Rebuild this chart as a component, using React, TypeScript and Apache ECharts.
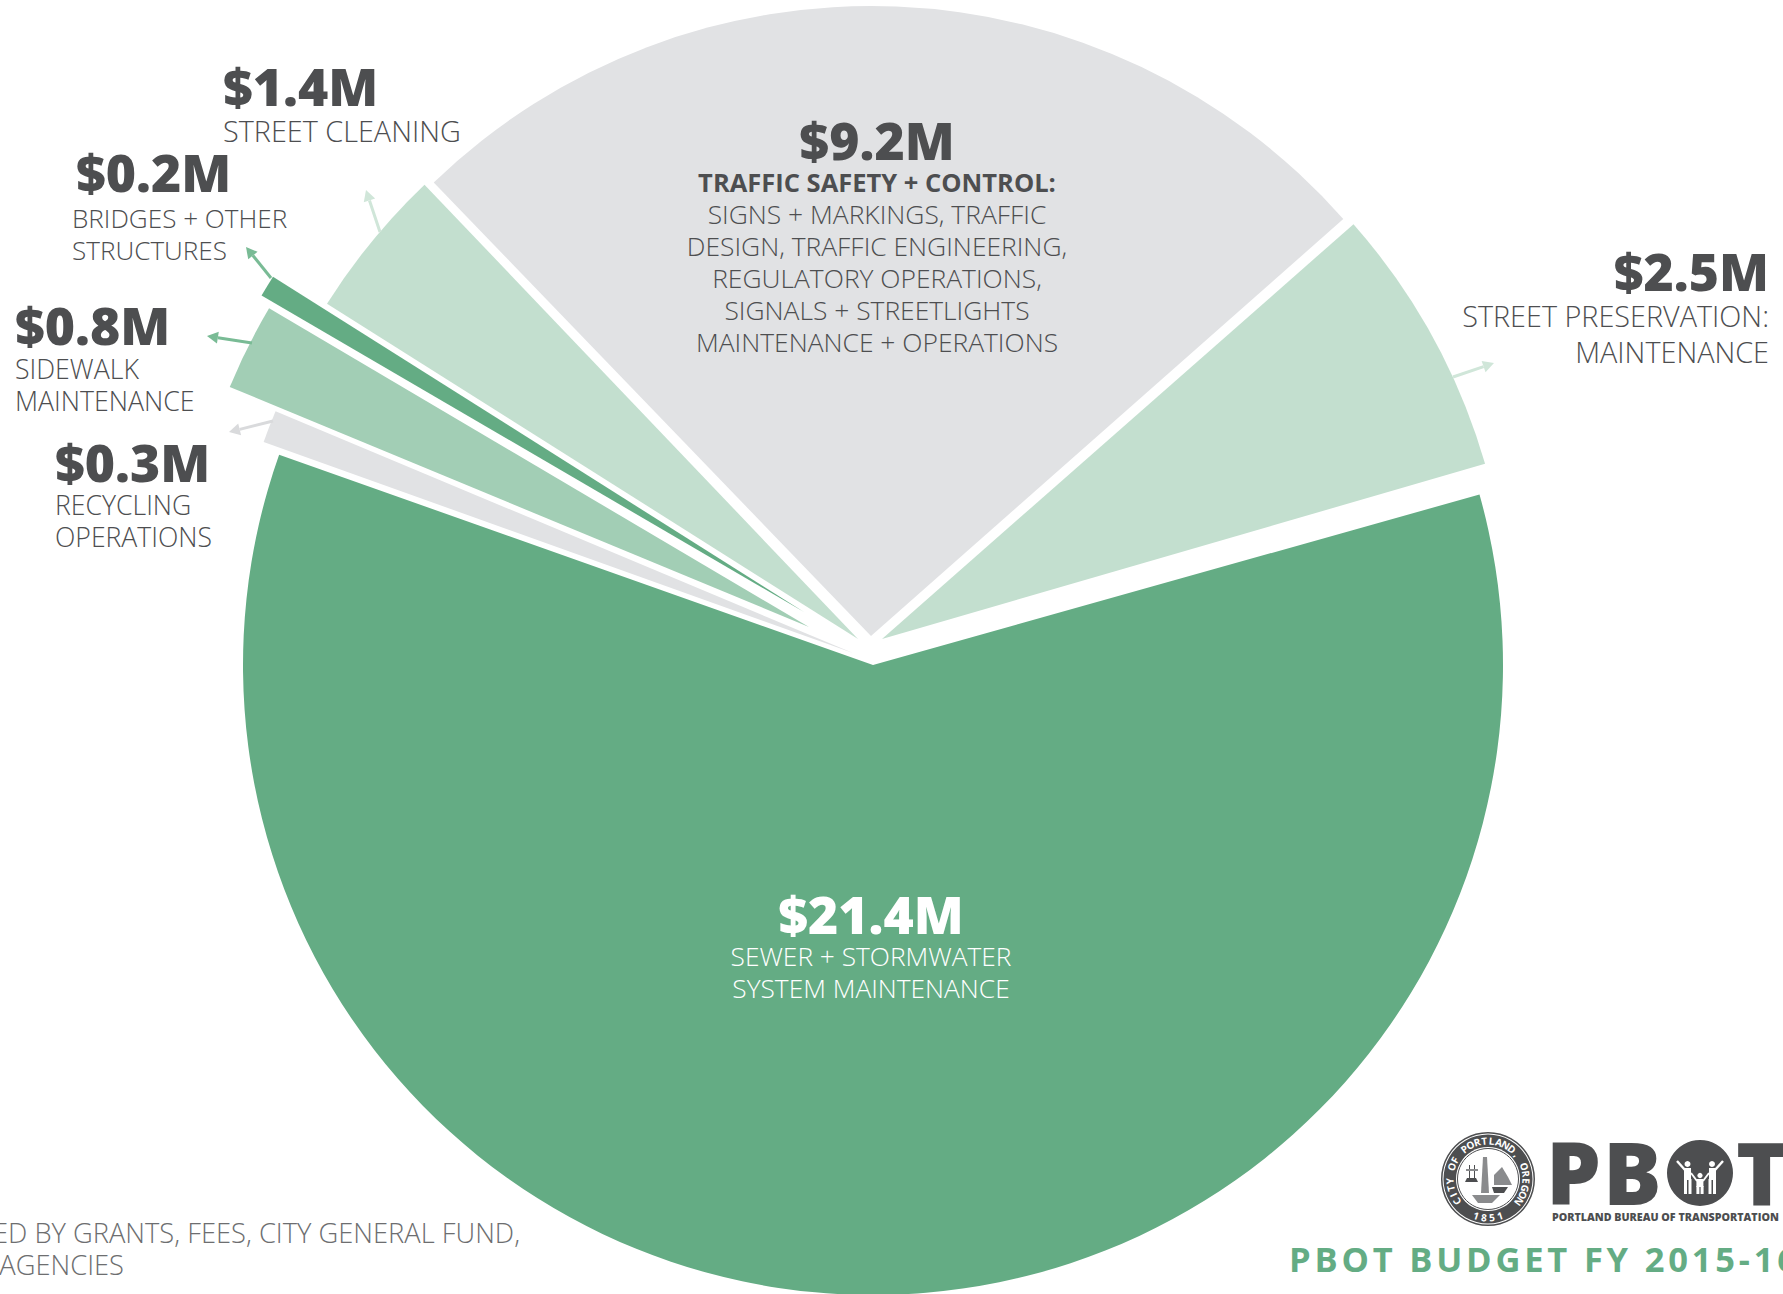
import React, { useEffect, useRef } from "react";
import * as echarts from "echarts";

// Budget lines in clockwise order, starting from the sewer slice.
const categories = [
  "Sewer + Stormwater System Maintenance",
  "Recycling Operations",
  "Sidewalk Maintenance",
  "Bridges + Other Structures",
  "Street Cleaning",
  "Traffic Safety + Control",
  "Street Preservation: Maintenance",
];
const valuesM = [21.4, 0.3, 0.8, 0.2, 1.4, 9.2, 2.5];
const sliceColors = ["#64AC84", "#E1E2E4", "#A2CEB5", "#64AC84", "#C3DFCF", "#E1E2E4", "#C3DFCF"];

// Every slice is pulled away from the middle by its own amount and turned slightly.
const sliceCenters = [
  [873, 665],
  [853, 653],
  [809, 627],
  [804, 612],
  [858, 639],
  [871, 636],
  [882, 639],
];
const sliceRadii = [630, 626, 627, 628, 628, 630, 628];
const sliceTurns = [-0.3, -0.5, -0.3, 0, 0, 0.3, 0.2];
const START_ANGLE = 16;

const INK = "#4D4E50";
const FOOT = "#6D6E70";
const FONT = "'Open Sans'";

const text = (
  t: string,
  x: number,
  y: number,
  size: number,
  weight: number,
  fill: string,
  align: string = "left",
) => ({
  type: "text",
  z: 20,
  silent: true,
  style: {
    text: t,
    x,
    y,
    fill,
    font: `${weight} ${size}px ${FONT}`,
    textAlign: align,
    textVerticalAlign: "middle",
  },
});

const HEAD = 51.7;
const money = (i: number) => `$${valuesM[i].toFixed(1)}M`;

// Amount with its caption lines, one block per slice.
const block = (
  i: number,
  x: number,
  yHead: number,
  size: number,
  lines: [string, number, number?, number?][],
  fill: string,
  align: string,
  captionX: number = x,
) => [
  text(money(i), x, yHead, HEAD, 800, fill, align),
  ...lines.map(([t, y, w, s]) => text(t, captionX, y, s ?? size, w ?? 300, fill, align)),
];

const arrow = (x0: number, y0: number, x1: number, y1: number, color: string) => {
  const a = Math.atan2(y1 - y0, x1 - x0);
  const len = 11;
  const wing = 6;
  const bx = x1 - Math.cos(a) * len;
  const by = y1 - Math.sin(a) * len;
  return [
    {
      type: "line",
      z: 5,
      silent: true,
      shape: { x1: x0, y1: y0, x2: bx, y2: by },
      style: { stroke: color, lineWidth: 3 },
    },
    {
      type: "polygon",
      z: 5,
      silent: true,
      shape: {
        points: [
          [x1, y1],
          [bx - Math.sin(a) * wing, by + Math.cos(a) * wing],
          [bx + Math.sin(a) * wing, by - Math.cos(a) * wing],
        ],
      },
      style: { fill: color },
    },
  ];
};

// City seal: banded ring with its lettering set round the arc, and a small scene inside.
const seal = (cx: number, cy: number) => {
  const items: any[] = [
    { type: "circle", z: 20, silent: true, shape: { cx, cy, r: 47 }, style: { fill: INK } },
    { type: "circle", z: 20, silent: true, shape: { cx, cy, r: 45.5 }, style: { fill: "#fff" } },
    { type: "circle", z: 20, silent: true, shape: { cx, cy, r: 44.5 }, style: { fill: INK } },
    { type: "circle", z: 20, silent: true, shape: { cx, cy, r: 32 }, style: { fill: "#fff" } },
    { type: "circle", z: 20, silent: true, shape: { cx, cy, r: 30.5 }, style: { fill: "#fff", stroke: INK, lineWidth: 1 } },
  ];
  const arcText = "CITY OF PORTLAND, OREGON";
  const from = (-126 * Math.PI) / 180;
  const to = (126 * Math.PI) / 180;
  [...arcText].forEach((c, i) => {
    const t = from + ((to - from) * i) / (arcText.length - 1);
    items.push({
      type: "text",
      z: 21,
      silent: true,
      x: cx + Math.sin(t) * 38.5,
      y: cy - Math.cos(t) * 38.5,
      rotation: -t,
      style: { text: c, x: 0, y: 0, fill: "#fff", font: `700 10px ${FONT}`, textAlign: "center", textVerticalAlign: "middle" },
    });
  });
  [..."1851"].forEach((c, i) => {
    const t = ((i - 1.5) * 12 * Math.PI) / 180;
    items.push({
      type: "text",
      z: 21,
      silent: true,
      x: cx + Math.sin(t) * 38.5,
      y: cy + Math.cos(t) * 38.5,
      rotation: t,
      style: { text: c, x: 0, y: 0, fill: "#fff", font: `700 10px ${FONT}`, textAlign: "center", textVerticalAlign: "middle" },
    });
  });
  const shade = { fill: "#8A8B8D" };
  const dark = { fill: INK };
  const poly = (pts: number[][], style: any) => ({
    type: "polygon",
    z: 21,
    silent: true,
    shape: { points: pts.map(([x, y]) => [cx + x, cy + y]) },
    style,
  });
  items.push(
    poly([[-5, -22], [-1, -22], [1, 14], [-7, 14]], shade),
    poly([[-21, -1], [-12, -1], [-10, 3], [-23, 3]], dark),
    poly([[-19, -14], [-18, -14], [-18, -1], [-19, -1]], dark),
    poly([[-14, -14], [-13, -14], [-13, -1], [-14, -1]], dark),
    poly([[-22, -10], [-10, -10], [-10, -8], [-22, -8]], shade),
    poly([[6, -4], [14, -12], [20, -2], [24, 6], [6, 6]], shade),
    poly([[4, 8], [20, 8], [16, 14], [6, 14]], dark),
    poly([[-16, 16], [12, 16], [4, 24], [-10, 24]], shade),
  );
  return items;
};

// Transportation bureau wordmark; the O is a disc holding a family of three.
const wordmark = (x: number, top: number) => {
  const white = { fill: "#fff" };
  const ox = x + 148;
  const oy = top + 33;
  const rect = (x0: number, y0: number, w: number, h: number) => ({
    type: "rect",
    z: 22,
    silent: true,
    shape: { x: ox + x0, y: oy + y0, width: w, height: h },
    style: white,
  });
  const limb = (x0: number, y0: number, x1: number, y1: number, w: number) => ({
    type: "line",
    z: 22,
    silent: true,
    shape: { x1: ox + x0, y1: oy + y0, x2: ox + x1, y2: oy + y1 },
    style: { stroke: "#fff", lineWidth: w },
  });
  const head = (x0: number, y0: number, r: number) => ({
    type: "circle",
    z: 22,
    silent: true,
    shape: { cx: ox + x0, cy: oy + y0, r },
    style: white,
  });
  return [
    text("P", x - 6, top + 31, 87, 800, INK),
    text("B", x + 51, top + 31, 87, 800, INK),
    text("T", x + 184, top + 31, 87, 800, INK),
    { type: "circle", z: 21, silent: true, shape: { cx: ox, cy: oy, r: 33 }, style: { fill: INK } },
    head(-12.5, -9, 3),
    head(12, -9, 3),
    head(0, 2.5, 2.6),
    limb(-23, -12, -15, -3, 2.4),
    limb(23, -12, 15, -3, 2.4),
    rect(-16, -5, 7, 12),
    rect(9, -5, 7, 12),
    rect(-16, 6, 3, 15),
    rect(-11.5, 6, 3, 15),
    rect(8.5, 6, 3, 15),
    rect(13, 6, 3, 15),
    limb(-9, 0, -3, 8, 1.8),
    limb(9, 0, 3, 8, 1.8),
    rect(-3.6, 6, 7, 8),
    rect(-3.6, 13, 3, 8),
    rect(0.6, 13, 3, 8),
  ];
};

export default function App() {
  const ref = useRef<HTMLDivElement>(null);

  useEffect(() => {
    const chart = echarts.init(ref.current!, undefined, { renderer: "svg" });
    const pieData = (show: number) =>
      valuesM.map((value, i) => ({
        name: categories[i],
        value,
        itemStyle: i === show ? { color: sliceColors[i] } : { color: "#fff", opacity: 0 },
      }));

    chart.setOption({
      animation: false,
      backgroundColor: "#fff",
      series: categories.map((_, i) => ({
        type: "pie",
        silent: true,
        clockwise: true,
        startAngle: START_ANGLE + sliceTurns[i],
        center: sliceCenters[i],
        radius: [0, sliceRadii[i]],
        avoidLabelOverlap: false,
        label: { show: false },
        labelLine: { show: false },
        data: pieData(i),
      })),
      graphic: {
        elements: [
          ...arrow(380, 232, 366, 190, "#D0E6D9"),
          ...arrow(271, 278, 246, 247, "#79BB95"),
          ...arrow(252, 343, 207, 336, "#79BB95"),
          ...arrow(273, 421, 229, 432, "#D9DADC"),
          ...arrow(1453, 377, 1494, 363, "#D0E6D9"),

          ...block(4, 223, 86, 28.8, [["STREET CLEANING", 130]], INK, "left"),
          ...block(3, 76, 172, 26.1, [["BRIDGES + OTHER", 218], ["STRUCTURES", 250]], INK, "left", 72),
          ...block(2, 15, 325, 26.7, [["SIDEWALK", 368], ["MAINTENANCE", 400]], INK, "left"),
          ...block(1, 55, 462, 26.6, [["RECYCLING", 505], ["OPERATIONS", 537]], INK, "left"),
          ...block(
            5,
            877,
            140,
            26.4,
            [
              ["TRAFFIC SAFETY + CONTROL:", 182, 700, 25.5],
              ["SIGNS + MARKINGS, TRAFFIC", 214],
              ["DESIGN, TRAFFIC ENGINEERING,", 246],
              ["REGULATORY OPERATIONS,", 278],
              ["SIGNALS + STREETLIGHTS", 310],
              ["MAINTENANCE + OPERATIONS", 342],
            ],
            INK,
            "center",
          ),
          ...block(6, 1769, 271, 28.8, [["STREET PRESERVATION:", 315], ["MAINTENANCE", 351]], INK, "right"),
          ...block(0, 871, 914, 26.3, [["SEWER + STORMWATER", 956], ["SYSTEM MAINTENANCE", 988]], "#fff", "center"),

          text("ED BY GRANTS, FEES, CITY GENERAL FUND,", 520, 1232, 27.3, 300, FOOT, "right"),
          text("AGENCIES", 124, 1264, 27.3, 300, FOOT, "right"),

          ...seal(1488, 1179),
          ...wordmark(1552, 1140),
          text("PORTLAND BUREAU OF TRANSPORTATION", 1552, 1217, 10.7, 800, INK),
          text("PBOT BUDGET FY 2015-16", 1289, 1258, 34.5, 700, "#64AC84"),
        ],
      },
    });

    // The footer title is set with wide tracking.
    ref.current!.querySelectorAll("text").forEach((el) => {
      if (el.textContent === "PBOT BUDGET FY 2015-16") {
        (el as SVGTextElement).style.letterSpacing = "3.8px";
      }
    });

    return () => chart.dispose();
  }, []);

  return (
    <div
      ref={ref}
      style={{ position: "absolute", left: 0, top: 0, width: 1783, height: 1294, overflow: "hidden" }}
    />
  );
}
